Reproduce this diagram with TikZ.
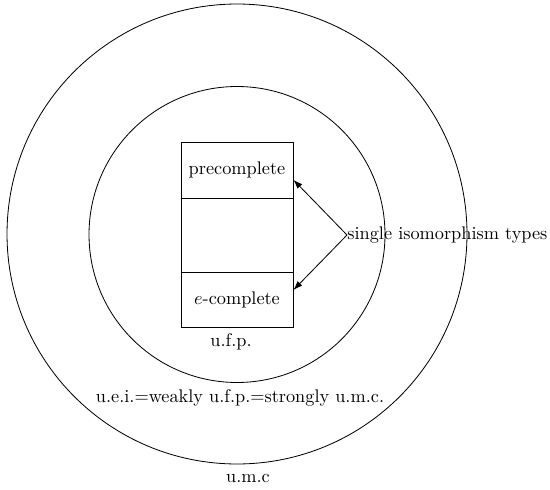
\documentclass[tikz,border=0pt]{standalone}
\usetikzlibrary{arrows.meta}
\begin{document}
\begin{tikzpicture}[x=0.547pt,y=-0.547pt,
  ring/.style={draw,circle,inner sep=0pt,line width=0.45pt},
  cell/.style={draw,rectangle,inner sep=0pt,minimum width=61.3pt,line width=0.45pt},
  lbl/.style={inner sep=0pt},
  pointer/.style={-{Latex[length=5pt,width=3.6pt]},line width=0.45pt}]
\useasboundingbox (0,0) rectangle (550,489);
\node[ring,minimum size=251.6pt] (outer) at (237,234) {};
\node[ring,minimum size=161.9pt] (inner) at (237,234.5) {};
\node[cell,minimum height=30.6pt] (top) at (237,170) {precomplete};
\node[cell,minimum height=40.5pt] (mid) at (237,235) {};
\node[cell,minimum height=30.1pt] (bot) at (237,299.5) {$e$-complete};
\node[lbl] (ufp) at (231,342) {u.f.p.};
\node[lbl] (uei) at (240,398) {u.e.i.=weakly u.f.p.=strongly u.m.c.};
\node[lbl] (umc) at (248,478) {u.m.c};
\node[lbl,anchor=west] (sit) at (347,235) {single isomorphism types};
\draw[pointer] (sit.west) -- ([yshift=-5.4pt]top.east);
\draw[pointer] (sit.west) -- ([yshift=5.2pt]bot.east);
\end{tikzpicture}
\end{document}
